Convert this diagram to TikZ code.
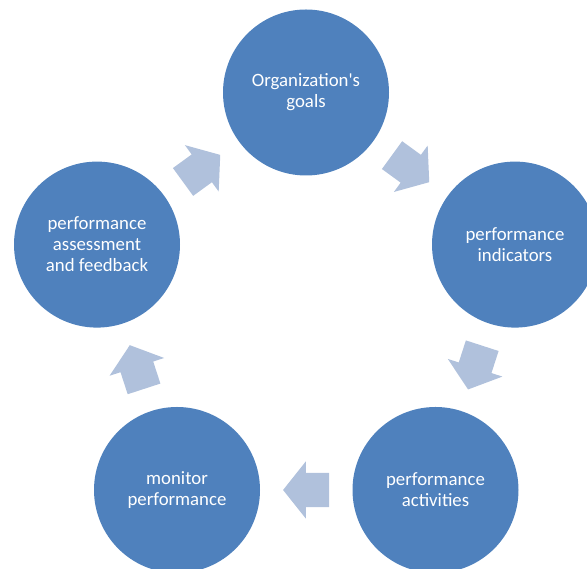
\documentclass[tikz,border=0pt]{standalone}
\usepackage{fontspec}
\setmainfont{Carlito}
\usetikzlibrary{shapes.arrows}
\usepackage{xcolor}
\definecolor{circblue}{RGB}{79,129,189}
\definecolor{arrowpale}{RGB}{176,193,220}

\begin{document}
\begin{tikzpicture}[x=1pt,y=1pt,
  stage/.style={circle,fill=circblue,minimum size=166pt,inner sep=0pt,
    text=white,align=center,font=\fontsize{18.8}{21}\selectfont},
  cyclearrow/.style={single arrow,fill=arrowpale,draw=none,inner xsep=0pt,
    inner ysep=17pt,minimum height=46pt,single arrow head extend=11.5pt,
    single arrow tip angle=103,sloped,allow upside down,anchor=tail,pos=0.25}]
  \useasboundingbox (0,0) rectangle (587,569);
  \clip (0,0) rectangle (587,569);
  % the five stages
  \node[stage] (goals) at (306,476.5) {Organization\textquotesingle s\\goals};
  \node[stage] (indic) at (515,324.4) {performance\\indicators};
  \node[stage] (activ) at (435.5,79) {performance\\activities};
  \node[stage] (monit) at (177,79) {monitor\\performance};
  \node[stage] (assess) at (97,324.4) {performance\\assessment\\and feedback};
  % arrows round the cycle
  \foreach \a/\b in {goals/indic,indic/activ,activ/monit,monit/assess,assess/goals}
    \path (\a) -- node[cyclearrow]{} (\b);
\end{tikzpicture}
\end{document}
